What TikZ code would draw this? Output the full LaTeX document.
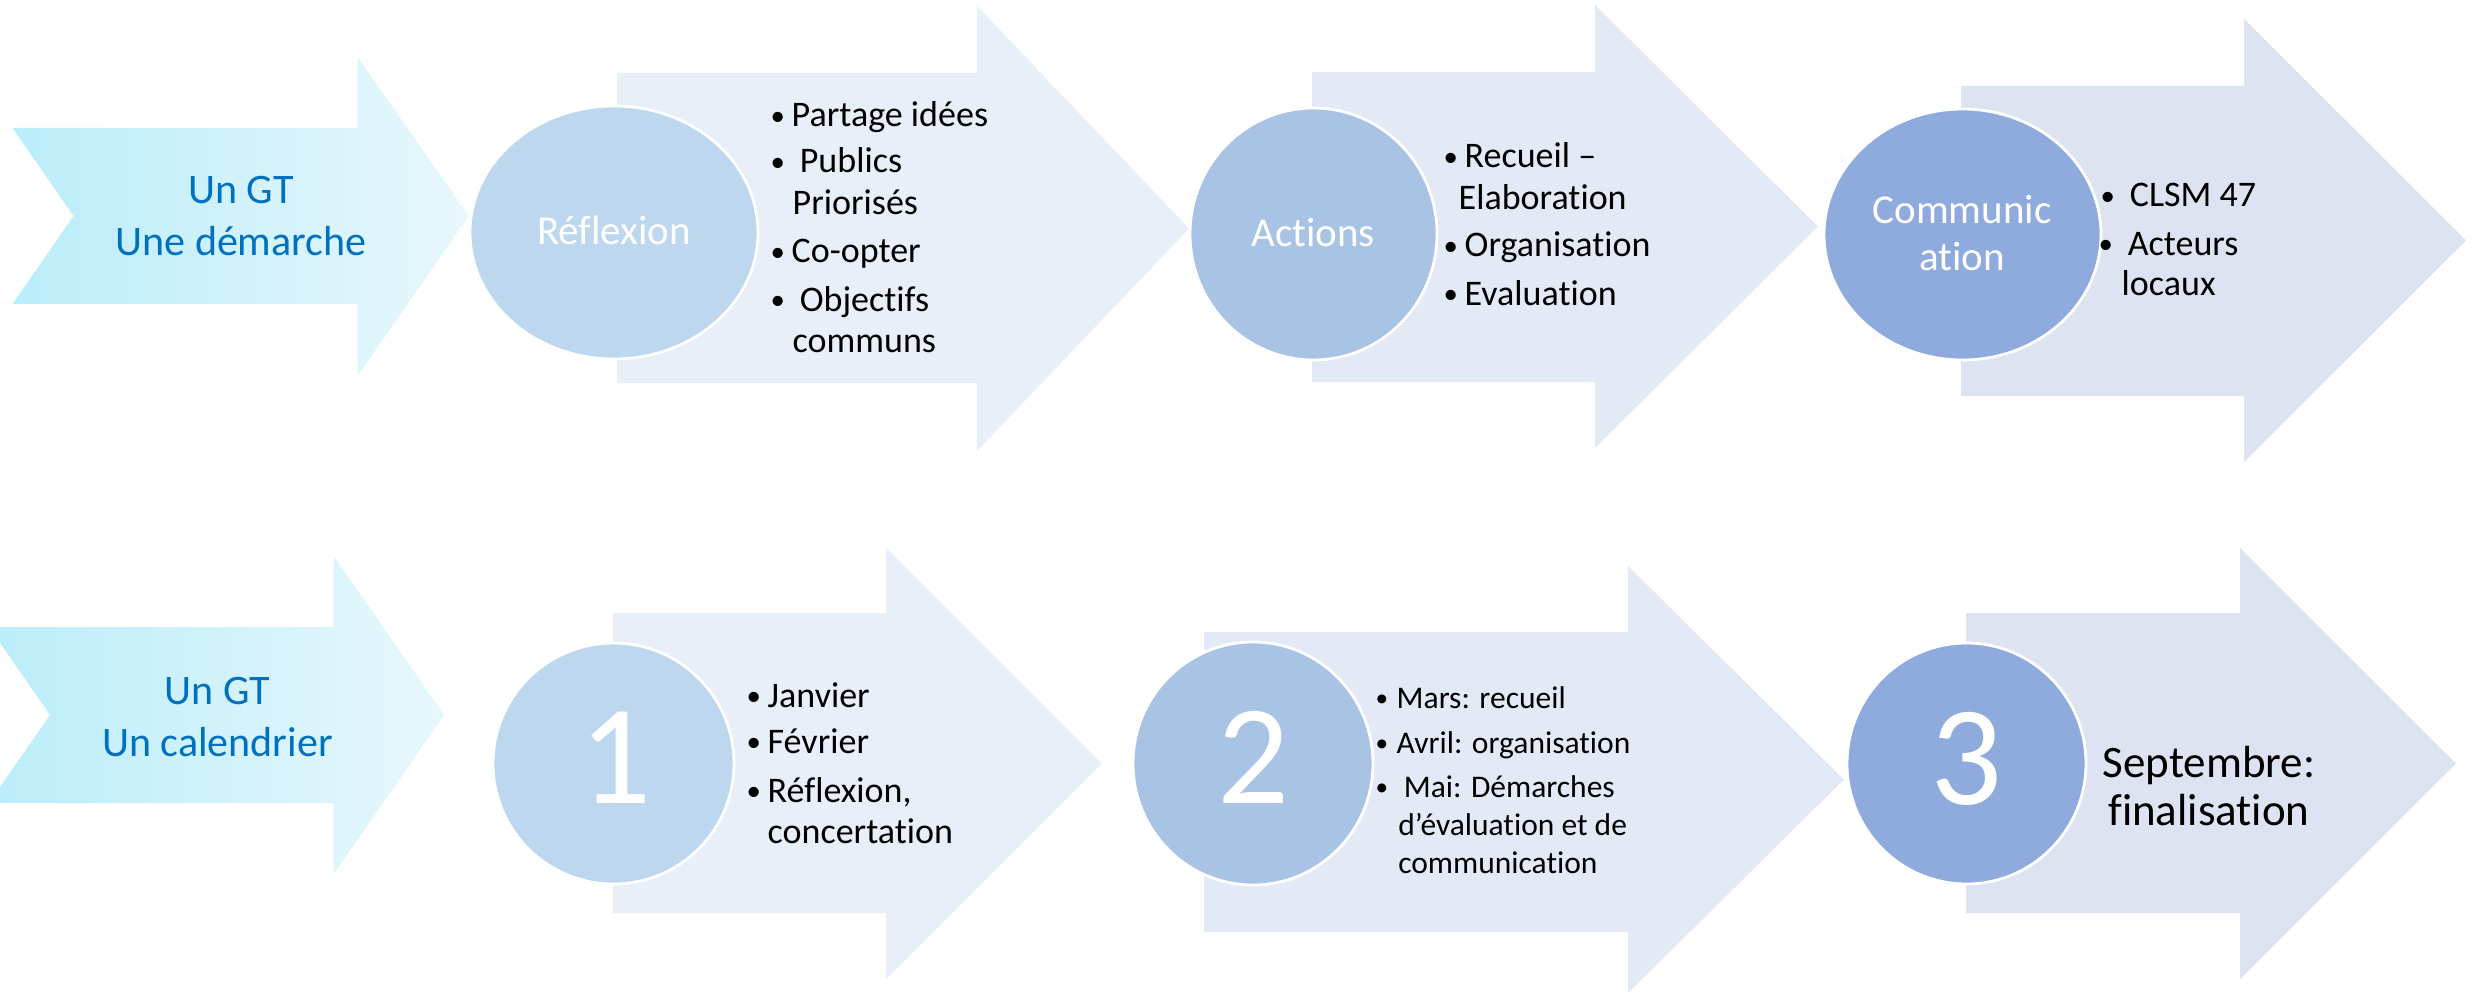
\documentclass[tikz,border=0pt]{standalone}
\usepackage{graphicx}
\usepackage{fontspec}
\setmainfont{Carlito}[Ligatures={NoCommon,NoContextual}]
\definecolor{gtblue}{HTML}{0070C0}
\definecolor{chevL}{HTML}{BAEDFA}
\definecolor{chevR}{HTML}{E8F7FC}
\definecolor{arrA}{HTML}{E9EFF8}
\definecolor{arrB}{HTML}{E3E9F5}
\definecolor{arrC}{HTML}{DEE3F1}
\definecolor{ellA}{HTML}{BDD7EE}
\definecolor{ellB}{HTML}{A9C3E5}
\definecolor{ellC}{HTML}{8FAADC}
\newcommand\bul{\makebox[0.18cm][l]{\hspace{-0.03cm}\raisebox{0.015cm}{\scalebox{0.8}{\textbullet}}}}
\tikzset{
  txt/.style={inner sep=0pt, anchor=base west, font=\fontsize{10.24}{12}\selectfont},
  smalltxt/.style={inner sep=0pt, anchor=base west, font=\fontsize{8.96}{11}\selectfont},
  gttxt/.style={inner sep=0pt, anchor=base, text=gtblue, font=\fontsize{11.95}{14}\selectfont},
  inell/.style={inner sep=0pt, anchor=base, text=white, font=\fontsize{11.67}{14}\selectfont},
  bignum/.style={inner sep=0pt, anchor=base, text=white, font=\fontsize{40.4}{48}\selectfont},
  sept/.style={inner sep=0pt, anchor=base, font=\fontsize{12.8}{15}\selectfont},
  ellborder/.style={draw=white, line width=0.8pt}
}
\begin{document}
\begin{tikzpicture}[x=0.01cm,y=-0.01cm]
\useasboundingbox (0,0) rectangle (2475,994);
\clip (0,0) rectangle (2475,994);
% ---------- top row ----------
\shade[left color=chevL, right color=chevR]
  (12.6,128) -- (357.5,128) -- (357.5,57) -- (469,216) -- (357.5,376) -- (357.5,304) -- (12.6,304) -- (73.5,216) -- cycle;
\fill[arrA] (617,73) -- (977,73) -- (977,6) -- (1189,228.5) -- (977,451) -- (977,383) -- (617,383) -- cycle;
\fill[arrB] (1312,72) -- (1595,72) -- (1595,5) -- (1818,226.5) -- (1595,448) -- (1595,382) -- (1312,382) -- cycle;
\fill[arrC] (1961,86) -- (2244,86) -- (2244,19) -- (2466,240.5) -- (2244,462) -- (2244,396) -- (1961,396) -- cycle;
\filldraw[fill=ellA, ellborder] (614,232.5) ellipse [x radius=144, y radius=126.5];
\filldraw[fill=ellB, ellborder] (1313.5,234) ellipse [x radius=123.5, y radius=126];
\filldraw[fill=ellC, ellborder] (1962.5,234.5) ellipse [x radius=138.5, y radius=125.5];
\node[gttxt] (t1) at (241,204) {Un GT};
\node[gttxt] (t2) at (241,256) {Une démarche};
\node[inell] (e1) at (614,245) {Réflexion};
\node[inell] (e2) at (1313,247) {Actions};
\node[inell] (e3a) at (1962,224) {Communic};
\node[inell] (e3b) at (1962,271) {ation};
\node[txt] (r1) at (773,127) {\bul Partage idées};
\node[txt] (r2) at (773,173) {\bul\ Publics};
\node[txt] (r3) at (792,215) {Priorisés};
\node[txt] (r4) at (773,263) {\bul Co-opter};
\node[txt] (r5) at (773,311) {\bul\ Objectifs};
\node[txt] (r6) at (792,352) {communs};
\node[txt] (a1) at (1446,168) {\bul Recueil –};
\node[txt] (a2) at (1458,210) {Elaboration};
\node[txt] (a3) at (1446,257) {\bul Organisation};
\node[txt] (a4) at (1446,305) {\bul Evaluation};
\node[txt] (c1) at (2103,207) {\bul\ CLSM 47};
\node[txt] (c2) at (2101,255) {\bul\ Acteurs};
\node[txt] (c3) at (2121,295) {locaux};
% ---------- bottom row ----------
\shade[left color=chevL, right color=chevR]
  (-11,627) -- (333.7,627) -- (333.7,556) -- (444.4,715) -- (333.7,874) -- (333.7,803) -- (-11,803) -- (50,715) -- cycle;
\fill[arrA] (613,613) -- (886,613) -- (886,548) -- (1101.6,763.5) -- (886,979) -- (886,913) -- (613,913) -- cycle;
\fill[arrB] (1204,632) -- (1628,632) -- (1628,566) -- (1844,779.5) -- (1628,993) -- (1628,932) -- (1204,932) -- cycle;
\fill[arrC] (1966,613) -- (2240,613) -- (2240,548) -- (2456,763.5) -- (2240,979) -- (2240,913) -- (1966,913) -- cycle;
\filldraw[fill=ellA, ellborder] (613.5,763.5) ellipse [x radius=120.5, y radius=120.5];
\filldraw[fill=ellB, ellborder] (1253,763.5) ellipse [x radius=120, y radius=121.5];
\filldraw[fill=ellC, ellborder] (1966.5,763.5) ellipse [x radius=119.5, y radius=120.5];
\node[gttxt] (u1) at (217.5,704) {Un GT};
\node[gttxt] (u2) at (217.5,756) {Un calendrier};
\node[bignum] (n1) at (615,803) {1};
\node[bignum] (n2) at (1253,803) {2};
\node[bignum] (n3) at (1966.5,804) {3};
\node[txt] (j1) at (749,707) {\bul Janvier};
\node[txt] (j2) at (749,753) {\bul Février};
\node[txt] (j3) at (749,802) {\bul Réflexion,};
\node[txt] (j4) at (767,843) {concertation};
\node[smalltxt] (m1) at (1378,708) {\bul Mars: recueil};
\node[smalltxt] (m2) at (1378,753) {\bul Avril: organisation};
\node[smalltxt] (m3) at (1378,797) {\bul\ Mai: Démarches};
\node[smalltxt] (m4) at (1397.6,835) {d’évaluation et de};
\node[smalltxt] (m5) at (1397.6,873) {communication};
\node[sept] (s1) at (2209,777) {Septembre:};
\node[sept] (s2) at (2209,825) {finalisation};
\end{tikzpicture}
\end{document}
